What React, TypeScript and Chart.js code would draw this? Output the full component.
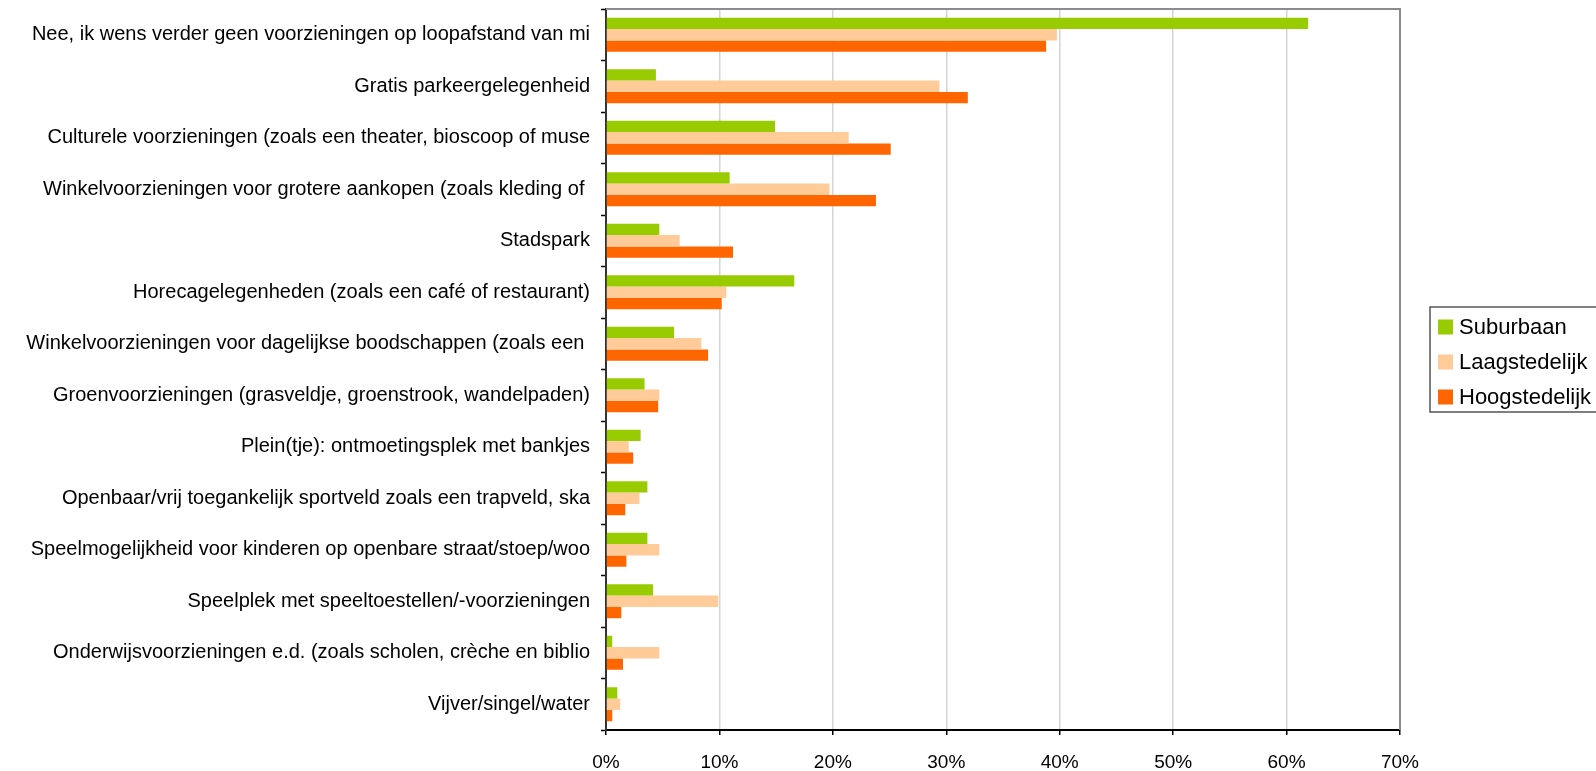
import React, { useEffect, useRef } from "react";
import { Chart, registerables } from "chart.js";

Chart.register(...registerables);

const categories: string[] = [
  "Nee, ik wens verder geen voorzieningen op loopafstand van mi",
  "Gratis parkeergelegenheid",
  "Culturele voorzieningen (zoals een theater, bioscoop of muse",
  "Winkelvoorzieningen voor grotere aankopen (zoals kleding of ",
  "Stadspark",
  "Horecagelegenheden (zoals een café of restaurant)",
  "Winkelvoorzieningen voor dagelijkse boodschappen (zoals een ",
  "Groenvoorzieningen (grasveldje, groenstrook, wandelpaden)",
  "Plein(tje): ontmoetingsplek met bankjes",
  "Openbaar/vrij toegankelijk sportveld zoals een trapveld, ska",
  "Speelmogelijkheid voor kinderen op openbare straat/stoep/woo",
  "Speelplek met speeltoestellen/-voorzieningen",
  "Onderwijsvoorzieningen e.d. (zoals scholen, crèche en biblio",
  "Vijver/singel/water",
];

const suburbaan: number[] = [61.9, 4.4, 14.9, 10.9, 4.7, 16.6, 6.0, 3.4, 3.05, 3.65, 3.65, 4.15, 0.55, 1.0];
const laagstedelijk: number[] = [39.75, 29.4, 21.4, 19.7, 6.5, 10.6, 8.4, 4.7, 2.0, 2.95, 4.7, 9.9, 4.7, 1.25];
const hoogstedelijk: number[] = [38.8, 31.9, 25.1, 23.8, 11.2, 10.2, 9.0, 4.6, 2.4, 1.7, 1.8, 1.35, 1.5, 0.55];

const seriesNames: string[] = ["Suburbaan", "Laagstedelijk", "Hoogstedelijk"];
const seriesColors: string[] = ["#99CC00", "#FFCC99", "#FF6600"];
const xTicks: number[] = [0, 10, 20, 30, 40, 50, 60, 70];

const FONT = "'Liberation Sans', Arial, sans-serif";

const framePlugin = {
  id: "frame",
  afterDatasetsDraw(chart: any) {
    const { ctx, chartArea } = chart;
    const { left, right, top, bottom } = chartArea;
    ctx.save();
    ctx.strokeStyle = "#8c8c8c";
    ctx.lineWidth = 2;
    ctx.beginPath();
    ctx.moveTo(left, top);
    ctx.lineTo(right, top);
    ctx.lineTo(right, bottom);
    ctx.stroke();
    ctx.restore();
  },
  afterDraw(chart: any) {
    const { ctx } = chart;
    const boxLeft = 1430;
    const boxTop = 307;
    const boxBottom = 412;
    ctx.save();
    ctx.strokeStyle = "#555555";
    ctx.lineWidth = 1.5;
    ctx.strokeRect(boxLeft, boxTop, 1596 - boxLeft + 10, boxBottom - boxTop);
    ctx.font = `22px ${FONT}`;
    ctx.textBaseline = "middle";
    ctx.textAlign = "left";
    const rowCenters = [326.5, 361.5, 396.5];
    chart.data.datasets.forEach((ds: any, i: number) => {
      const cy = rowCenters[i];
      ctx.fillStyle = ds.backgroundColor;
      ctx.fillRect(1438, cy - 7, 15, 15);
      ctx.fillStyle = "#000000";
      ctx.fillText(ds.label, 1459, cy + 1);
    });
    ctx.restore();
  },
};

export default function App() {
  const canvasRef = useRef<HTMLCanvasElement | null>(null);

  useEffect(() => {
    const canvas = canvasRef.current;
    if (!canvas) return;
    const chart = new Chart(canvas, {
      type: "bar",
      data: {
        labels: categories,
        datasets: [
          { label: seriesNames[0], data: suburbaan, backgroundColor: seriesColors[0] },
          { label: seriesNames[1], data: laagstedelijk, backgroundColor: seriesColors[1] },
          { label: seriesNames[2], data: hoogstedelijk, backgroundColor: seriesColors[2] },
        ],
      },
      options: {
        indexAxis: "y",
        responsive: false,
        animation: false,
        devicePixelRatio: 1,
        layout: { padding: { top: 9, right: 196, left: 0, bottom: 0 } },
        datasets: {
          bar: { categoryPercentage: 0.66, barPercentage: 1.0, borderWidth: 0 },
        },
        plugins: {
          legend: { display: false },
          tooltip: { enabled: false },
        },
        scales: {
          x: {
            type: "linear",
            min: 0,
            max: 70,
            afterFit: (s: any) => {
              s.height = 41;
            },
            afterBuildTicks: (s: any) => {
              s.ticks = xTicks.map((v) => ({ value: v }));
            },
            ticks: {
              callback: (v: any) => `${v}%`,
              font: { family: FONT, size: 19 },
              color: "#000000",
              padding: 16,
              maxRotation: 0,
            },
            grid: {
              color: "#d4d4d4",
              lineWidth: 1.5,
              tickLength: 5,
              tickColor: "#000000",
              tickWidth: 1.5,
            },
            border: { color: "#000000", width: 2 },
          },
          y: {
            type: "category",
            afterFit: (s: any) => {
              s.width = 606;
              s.paddingTop = 0;
              s.paddingBottom = 0;
            },
            ticks: {
              font: { family: FONT, size: 20 },
              color: "#000000",
              padding: 11,
              autoSkip: false,
            },
            grid: {
              offset: true,
              drawOnChartArea: false,
              tickLength: 5,
              tickColor: "#000000",
              tickWidth: 1.5,
            },
            border: { color: "#333333", width: 2 },
          },
        },
      },
      plugins: [framePlugin],
    } as any);
    return () => {
      chart.destroy();
    };
  }, []);

  return (
    <div style={{ position: "fixed", left: 0, top: 0, width: 1596, height: 771, background: "#ffffff" }}>
      <canvas ref={canvasRef} width={1596} height={771} style={{ display: "block", width: 1596, height: 771 }} />
    </div>
  );
}
